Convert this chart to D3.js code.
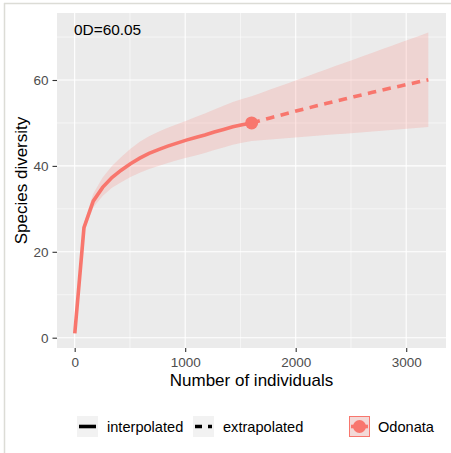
<!DOCTYPE html>
<html lang="en">
<head>
<meta charset="UTF-8">
<title>Odonata rarefaction</title>
<style>
  body { margin: 0; background: #fff; }
  svg { font-family: "Liberation Sans", Arial, sans-serif; }
</style>
</head>
<body>
<script src="https://cdn.jsdelivr.net/npm/d3@7"></script>
<script>
// interpolated (rarefaction) part
var interpX = [1, 84, 168, 253, 337, 421, 505, 589, 673, 758, 842, 926, 1010, 1094, 1178, 1263, 1347, 1431, 1515, 1601];
var interpY = [1, 25.6, 31.8, 35.0, 37.3, 39.0, 40.5, 41.8, 42.9, 43.8, 44.6, 45.3, 46.0, 46.6, 47.2, 47.9, 48.5, 49.1, 49.6, 50.0];
var interpLo = [1, 24.7, 30.3, 33.0, 34.9, 36.2, 37.4, 38.4, 39.3, 40.0, 40.7, 41.3, 41.9, 42.45, 43.0, 43.7, 44.3, 44.9, 45.4, 45.8];
var interpHi = [1, 26.6, 33.5, 37.3, 40.0, 42.1, 44.0, 45.6, 46.9, 47.95, 48.9, 49.7, 50.5, 51.4, 52.2, 53.15, 54.0, 54.85, 55.6, 56.2];

// extrapolated part
var extrapX = [1601, 1685, 1769, 1853, 1938, 2022, 2106, 2190, 2274, 2358, 2443, 2527, 2611, 2695, 2779, 2864, 2948, 3032, 3116, 3200];
var extrapY = [50.0, 50.59, 51.17, 51.75, 52.32, 52.88, 53.44, 53.98, 54.52, 55.06, 55.59, 56.11, 56.62, 57.13, 57.63, 58.13, 58.62, 59.10, 59.57, 60.05];
var extrapLo = [45.8, 45.97, 46.14, 46.31, 46.48, 46.66, 46.83, 47.0, 47.17, 47.34, 47.51, 47.68, 47.85, 48.02, 48.2, 48.37, 48.54, 48.71, 48.88, 49.05];
var extrapHi = [56.2, 56.98, 57.76, 58.55, 59.33, 60.11, 60.89, 61.67, 62.45, 63.24, 64.02, 64.8, 65.58, 66.36, 67.14, 67.93, 68.71, 69.49, 70.27, 71.05];

var observed = [1601, 50.0];
var xTicks = [0, 1000, 2000, 3000];
var xMinor = [500, 1500, 2500];
var yTicks = [0, 20, 40, 60];
var yMinor = [10, 30, 50, 70];
var label = "0D=60.05";
var legendItems = ["interpolated", "extrapolated"];
var group = "Odonata";

var width = 451, height = 453;
var panel = {left: 57, right: 446, top: 13, bottom: 348};
var red = "#F8766D";

var svg = d3.select("body").append("svg")
  .attr("width", width)
  .attr("height", height);

// frame of the screenshot
svg.append("line").attr("x1", 4).attr("x2", width).attr("y1", 3.5).attr("y2", 3.5)
  .attr("stroke", "#dcdcd6").attr("stroke-width", 1.5);
svg.append("line").attr("x1", 4.5).attr("x2", 4.5).attr("y1", 3).attr("y2", height)
  .attr("stroke", "#dcdcd6").attr("stroke-width", 1.5);

var xScale = d3.scaleLinear().domain([-160, 3360]).range([panel.left, panel.right]);
var yScale = d3.scaleLinear().domain([-2.4, 75.6]).range([panel.bottom, panel.top]);

svg.append("rect")
  .attr("x", panel.left).attr("y", panel.top)
  .attr("width", panel.right - panel.left).attr("height", panel.bottom - panel.top)
  .attr("fill", "#EBEBEB");

// grid
var grid = svg.append("g");
grid.selectAll(".xmin").data(xMinor).enter().append("line")
  .attr("x1", function(d){ return xScale(d); }).attr("x2", function(d){ return xScale(d); })
  .attr("y1", panel.top).attr("y2", panel.bottom)
  .attr("stroke", "#fff").attr("stroke-width", 0.55);
grid.selectAll(".ymin").data(yMinor).enter().append("line")
  .attr("y1", function(d){ return yScale(d); }).attr("y2", function(d){ return yScale(d); })
  .attr("x1", panel.left).attr("x2", panel.right)
  .attr("stroke", "#fff").attr("stroke-width", 0.55);
grid.selectAll(".xmaj").data(xTicks).enter().append("line")
  .attr("x1", function(d){ return xScale(d); }).attr("x2", function(d){ return xScale(d); })
  .attr("y1", panel.top).attr("y2", panel.bottom)
  .attr("stroke", "#fff").attr("stroke-width", 1.1);
grid.selectAll(".ymaj").data(yTicks).enter().append("line")
  .attr("y1", function(d){ return yScale(d); }).attr("y2", function(d){ return yScale(d); })
  .attr("x1", panel.left).attr("x2", panel.right)
  .attr("stroke", "#fff").attr("stroke-width", 1.1);

// confidence band
var bandX = interpX.concat(extrapX.slice(1));
var bandLo = interpLo.concat(extrapLo.slice(1));
var bandHi = interpHi.concat(extrapHi.slice(1));
var area = d3.area()
  .x(function(d, i){ return xScale(bandX[i]); })
  .y0(function(d, i){ return yScale(bandLo[i]); })
  .y1(function(d, i){ return yScale(bandHi[i]); });
svg.append("path").datum(bandX)
  .attr("d", area)
  .attr("fill", red).attr("fill-opacity", 0.2);

var line = d3.line()
  .x(function(d){ return xScale(d[0]); })
  .y(function(d){ return yScale(d[1]); });

svg.append("path").datum(d3.zip(interpX, interpY))
  .attr("d", line).attr("fill", "none")
  .attr("stroke", red).attr("stroke-width", 3.6);
svg.append("path").datum(d3.zip(extrapX, extrapY))
  .attr("d", line).attr("fill", "none")
  .attr("stroke", red).attr("stroke-width", 3.6)
  .attr("stroke-dasharray", "8.5,6.5");

svg.append("circle")
  .attr("cx", xScale(observed[0])).attr("cy", yScale(observed[1]))
  .attr("r", 6.5).attr("fill", red);

svg.append("text")
  .attr("x", 74).attr("y", 35)
  .attr("font-size", 15.4).attr("fill", "#000")
  .text(label);

// axes
var xAxis = d3.axisBottom(xScale).tickValues(xTicks).tickFormat(d3.format("d"))
  .tickSize(4).tickPadding(5.5);
var gx = svg.append("g")
  .attr("transform", "translate(0," + panel.bottom + ")")
  .call(xAxis);
var yAxis = d3.axisLeft(yScale).tickValues(yTicks).tickFormat(d3.format("d"))
  .tickSize(4.5).tickPadding(4);
var gy = svg.append("g")
  .attr("transform", "translate(" + panel.left + ",0)")
  .call(yAxis);
[gx, gy].forEach(function(g){
  g.select(".domain").remove();
  g.selectAll(".tick line").attr("stroke", "#333").attr("stroke-width", 1.1);
  g.selectAll(".tick text").attr("fill", "#4D4D4D")
    .attr("font-size", 13.5).attr("font-family", "Liberation Sans, Arial, sans-serif");
});

svg.append("text")
  .attr("x", (panel.left + panel.right) / 2).attr("y", 386)
  .attr("text-anchor", "middle").attr("font-size", 17).attr("fill", "#000")
  .text("Number of individuals");
svg.append("text")
  .attr("transform", "translate(26.5," + ((panel.top + panel.bottom) / 2) + ") rotate(-90)")
  .attr("text-anchor", "middle").attr("font-size", 17).attr("fill", "#000")
  .text("Species diversity");

// legend
var lg = svg.append("g");
var keyY = 426.5;
var keys = [{x: 77, dash: null}, {x: 193, dash: "7,6"}];
keys.forEach(function(k, i){
  lg.append("rect").attr("x", k.x).attr("y", keyY - 10.5).attr("width", 21).attr("height", 21)
    .attr("fill", "#F2F2F2");
  lg.append("line").attr("x1", k.x + 2).attr("x2", k.x + 19)
    .attr("y1", keyY).attr("y2", keyY)
    .attr("stroke", "#000").attr("stroke-width", 3.6)
    .attr("stroke-dasharray", k.dash);
  lg.append("text").attr("x", k.x + 30).attr("y", keyY + 5)
    .attr("font-size", 14.6).attr("fill", "#000")
    .text(legendItems[i]);
});
lg.append("rect").attr("x", 349).attr("y", keyY - 10.5).attr("width", 21).attr("height", 21)
  .attr("fill", "#F2F2F2");
lg.append("rect").attr("x", 349.5).attr("y", keyY - 10).attr("width", 20).attr("height", 20)
  .attr("fill", red).attr("fill-opacity", 0.2).attr("stroke", red).attr("stroke-width", 1);
lg.append("line").attr("x1", 351).attr("x2", 368).attr("y1", keyY).attr("y2", keyY)
  .attr("stroke", red).attr("stroke-width", 3.6);
lg.append("circle").attr("cx", 359.5).attr("cy", keyY).attr("r", 6.5).attr("fill", red);
lg.append("text").attr("x", 378).attr("y", keyY + 5)
  .attr("font-size", 14.6).attr("fill", "#000")
  .text(group);
</script>
</body>
</html>
